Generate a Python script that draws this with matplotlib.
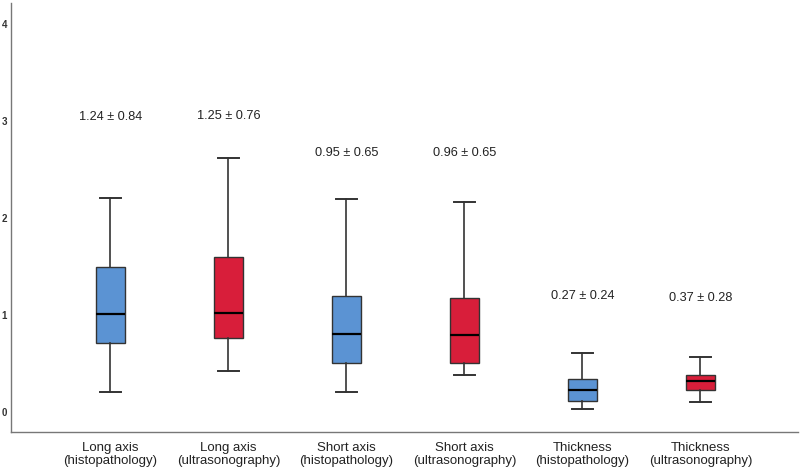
import matplotlib
matplotlib.use("Agg")
import matplotlib.pyplot as plt

plt.rcParams['font.family'] = ['Liberation Sans', 'DejaVu Sans']

categories = ["Long axis\n(histopathology)", "Long axis\n(ultrasonography)",
              "Short axis\n(histopathology)", "Short axis\n(ultrasonography)",
              "Thickness\n(histopathology)", "Thickness\n(ultrasonography)"]
whisker_low = [0.21, 0.42, 0.21, 0.38, 0.03, 0.10]
q1 = [0.71, 0.76, 0.50, 0.50, 0.11, 0.23]
medians = [1.01, 1.02, 0.80, 0.79, 0.23, 0.32]
q3 = [1.50, 1.60, 1.20, 1.18, 0.34, 0.38]
whisker_high = [2.21, 2.62, 2.20, 2.17, 0.61, 0.57]
annotations = ["1.24 \u00b1 0.84", "1.25 \u00b1 0.76", "0.95 \u00b1 0.65",
               "0.96 \u00b1 0.65", "0.27 \u00b1 0.24", "0.37 \u00b1 0.28"]
annotation_y = [3.04, 3.05, 2.67, 2.67, 1.20, 1.18]
colors = ["#5b93d3", "#d81e3a"] * 3

fig = plt.figure(figsize=(8, 4.69), dpi=100)
ax = fig.add_axes([0.014, 0.079, 0.984, 0.915])

stats = []
for i in range(len(categories)):
    stats.append(dict(med=medians[i], q1=q1[i], q3=q3[i],
                      whislo=whisker_low[i], whishi=whisker_high[i], fliers=[]))
positions = list(range(1, len(categories) + 1))
bp = ax.bxp(stats, positions=positions, widths=0.25, patch_artist=True,
            showfliers=False,
            boxprops=dict(edgecolor="#333333", linewidth=1.0),
            medianprops=dict(color="black", linewidth=1.6),
            whiskerprops=dict(color="#333333", linewidth=1.2),
            capprops=dict(color="#333333", linewidth=1.4), capwidths=0.18)
for patch, c in zip(bp['boxes'], colors):
    patch.set_facecolor(c)

for p, t, y in zip(positions, annotations, annotation_y):
    ax.text(p, y, t, ha='center', va='center', fontsize=9.2, color='#222222')

ax.set_xlim(0.16, 6.83)
ax.set_ylim(-0.206, 4.22)
ax.set_yticks([0, 1, 2, 3, 4])
ax.set_yticklabels(["0", "1", "2", "3", "4"], fontsize=7, fontweight='bold', color='#333333')
ax.set_xticks(positions)
ax.set_xticklabels(categories, fontsize=9.5, color='#222222', linespacing=1.12)
ax.tick_params(axis='x', length=0, pad=7)
ax.tick_params(axis='y', length=0, pad=3)
for s in ['top', 'right']:
    ax.spines[s].set_visible(False)
for s in ['left', 'bottom']:
    ax.spines[s].set_color('#777777')
    ax.spines[s].set_linewidth(1.0)

fig.savefig("out.png", dpi=100)
